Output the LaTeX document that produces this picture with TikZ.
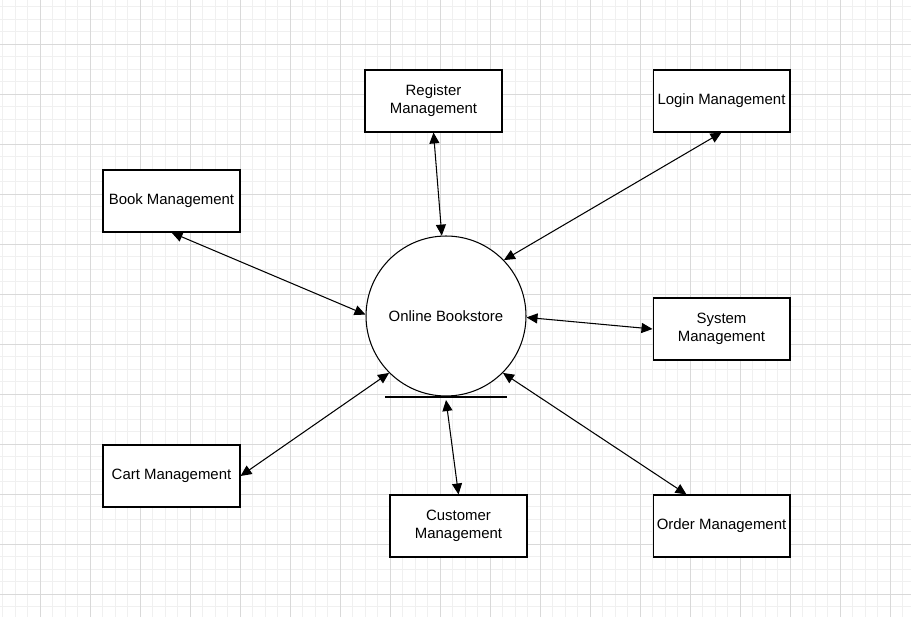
\documentclass[tikz,border=0pt]{standalone}
\usepackage{fontspec}
\setmainfont{Liberation Sans}
\usetikzlibrary{arrows.meta}

\begin{document}
\begin{tikzpicture}
      [ x = 0.02cm
      , y = -0.02cm
      , minor/.style =
        { draw = black!6, line width = 0.4pt }
      , major/.style =
        { draw = black!15, line width = 0.4pt }
      , proc/.style =
        { draw, line width = 0.6pt, fill = white, minimum width = 2.74cm,
          minimum height = 1.24cm, inner xsep = 1pt, align = center,
          font = \fontsize{8.5}{10.2}\selectfont }
      , store/.style =
        { draw, circle, line width = 0.6pt, fill = white, minimum size = 3.2cm,
          font = \fontsize{8.5}{10.2}\selectfont }
      , flow/.style =
        { {Triangle[length=2.2mm,width=2mm]}-{Triangle[length=2.2mm,width=2mm]},
          line width = 0.6pt }
      ]
      \useasboundingbox (0,0) rectangle (911,617);
      \fill [white] (0,0) rectangle (911,617);
      % grid
      \foreach \i in {0,...,72}
        \draw [minor] ({2.5+12.5*\i},0) -- ({2.5+12.5*\i},617);
      \foreach \i in {0,...,49}
        \draw [minor] (0,{6.5+12.5*\i}) -- (911,{6.5+12.5*\i});
      \foreach \i in {0,...,17}
        \draw [major] ({40+50*\i},0) -- ({40+50*\i},617);
      \foreach \i in {0,...,12}
        \draw [major] (0,{44+50*\i}) -- (911,{44+50*\i});
      % nodes
      \node [store] (bs) at (446, 316) {Online Bookstore};
      \draw [line width = 0.6pt] (385,397) -- (507,397);
      \node [proc] (reg) at (433.5, 101) {Register\\Management};
      \node [proc] (login) at (721.5, 101) {Login Management};
      \node [proc] (book) at (171.5, 201) {Book Management};
      \node [proc] (sys) at (721.5, 329) {System\\Management};
      \node [proc] (cart) at (171.5, 476) {Cart Management};
      \node [proc] (cust) at (458.5, 526) {Customer\\Management};
      \node [proc] (order) at (721.5, 526) {Order Management};
      % flows
      \draw [flow] (reg.south) to (bs.93.5);
      \draw [flow] (login.south) to (bs.44);
      \draw [flow] (book.south) to (bs.179);
      \draw [flow] (sys.west) to (bs.359);
      \draw [flow] (cart.east) to (bs.225);
      \draw [flow] (cust.north) to ([yshift=-2]bs.south);
      \draw [flow] (order.138) to (bs.315);
    \end{tikzpicture}
\end{document}
